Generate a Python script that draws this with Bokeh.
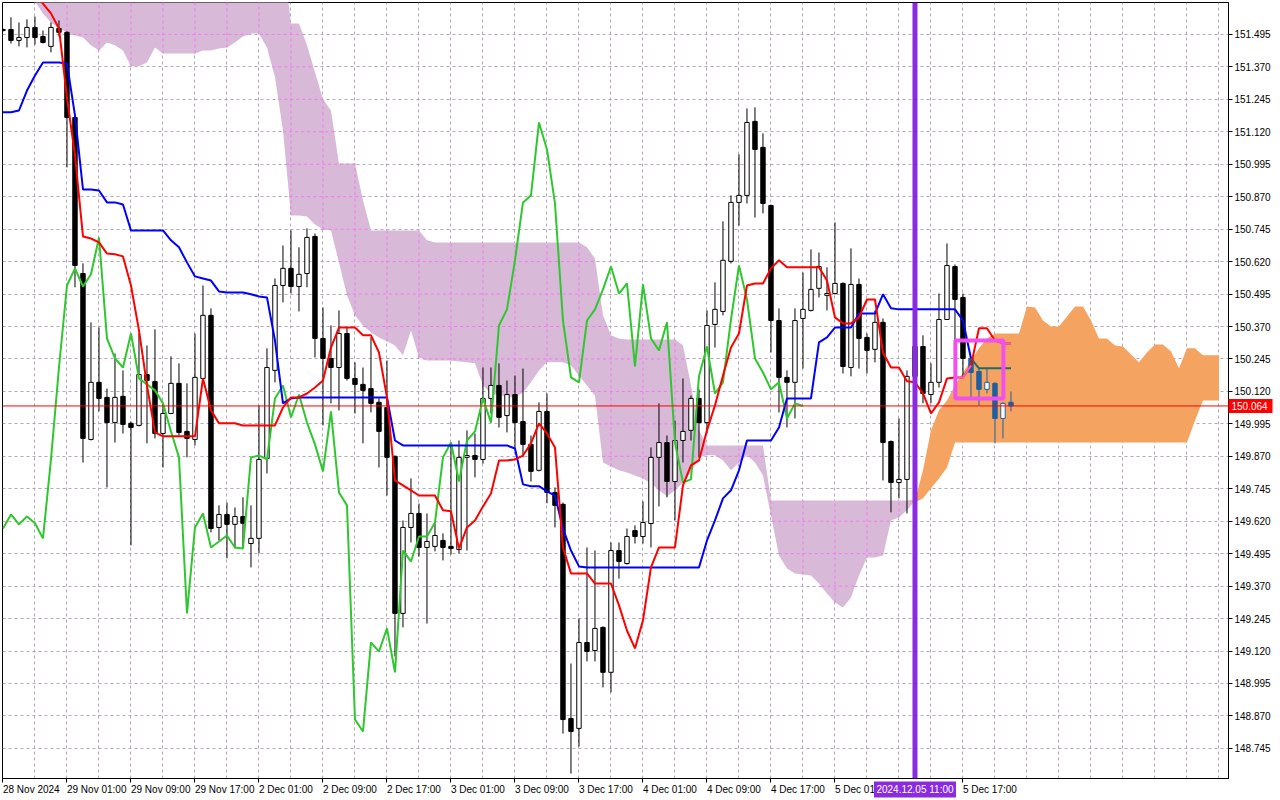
import numpy as np
from bokeh.plotting import figure
from bokeh.models import FixedTicker, PrintfTickFormatter, Span, Range1d
from bokeh.core.properties import value
from bokeh.embed import file_html
from bokeh.resources import INLINE

# ---------------- data (H1 bars, index 0 = 28 Nov 17:00) ----------------
open_ = [151.514, 151.514, 151.472, 151.483, 151.522, 151.487, 151.449, 151.518, 151.503, 151.175,
         150.574, 149.935, 150.155, 150.097, 150.000, 150.101, 149.997, 149.989, 150.185, 150.158,
         149.958, 150.035, 150.151, 149.966, 149.935, 150.170, 150.413, 149.596, 149.646, 149.608,
         149.638, 149.534, 149.554, 149.862, 150.201, 150.528, 150.594, 150.524, 150.574, 150.717,
         150.324, 150.247, 150.212, 150.343, 150.170, 150.147, 150.131, 150.078, 150.058, 149.870,
         149.265, 149.596, 149.650, 149.519, 149.523, 149.546, 149.523, 149.511, 149.866, 149.873,
         149.858, 150.093, 150.143, 150.027, 150.108, 150.004, 149.916, 149.816, 150.043, 149.731,
         149.685, 148.860, 148.822, 149.153, 149.122, 149.211, 149.038, 149.507, 149.457, 149.584,
         149.561, 149.611, 149.866, 149.923, 149.773, 149.931, 149.970, 150.093, 150.000, 150.378,
         150.428, 150.621, 150.848, 150.875, 151.160, 151.060, 150.836, 150.393, 150.174, 150.155,
         150.401, 150.432, 150.517, 150.490, 150.497, 150.536, 150.212, 150.532, 150.328, 150.282,
         150.386, 149.927, 149.769, 149.781, 150.178, 150.293, 150.108, 150.155, 150.397, 150.601,
         150.482, 150.247, 150.197, 150.128, 150.151, 150.016, 150.078]
high = [151.518, 151.561, 151.541, 151.553, 151.564, 151.510, 151.541, 151.549, 151.507, 151.183,
        150.613, 150.386, 150.366, 150.131, 150.266, 150.201, 150.004, 150.343, 150.297, 150.359,
        150.074, 150.255, 150.228, 150.151, 150.343, 150.528, 150.440, 149.681, 149.692, 149.673,
        149.712, 149.681, 150.066, 150.286, 150.555, 150.682, 150.740, 150.675, 150.748, 150.728,
        150.443, 150.374, 150.432, 150.366, 150.232, 150.212, 150.328, 150.093, 150.239, 149.873,
        149.623, 149.785, 149.688, 149.650, 149.612, 149.573, 149.923, 149.931, 149.970, 149.958,
        150.212, 150.212, 150.228, 150.162, 150.181, 150.208, 149.950, 150.078, 150.112, 149.750,
        149.692, 149.072, 149.245, 149.519, 149.507, 149.215, 149.538, 149.538, 149.592, 149.604,
        149.696, 149.904, 150.074, 149.950, 150.008, 150.170, 150.104, 150.128, 150.432, 150.540,
        150.775, 150.875, 151.033, 151.210, 151.214, 151.114, 150.840, 150.440, 150.201, 150.440,
        150.578, 150.667, 150.655, 150.598, 150.771, 150.540, 150.671, 150.555, 150.343, 150.432,
        150.401, 149.931, 150.016, 150.201, 150.316, 150.336, 150.228, 150.497, 150.690, 150.609,
        150.497, 150.251, 150.212, 150.212, 150.155, 150.078, 150.120]
low = [151.506, 151.460, 151.449, 151.445, 151.456, 151.460, 151.426, 151.487, 150.983, 150.521,
       149.846, 149.931, 150.043, 149.750, 149.923, 149.958, 149.527, 149.985, 149.920, 149.939,
       149.827, 150.033, 149.950, 149.866, 149.912, 150.168, 149.577, 149.546, 149.477, 149.515,
       149.519, 149.442, 149.496, 149.804, 150.155, 150.463, 150.497, 150.428, 150.521, 150.251,
       149.989, 150.074, 150.047, 150.162, 150.035, 149.920, 150.039, 149.827, 149.719, 149.099,
       149.211, 149.538, 149.484, 149.226, 149.504, 149.469, 149.492, 149.496, 149.507, 149.789,
       149.842, 150.035, 149.981, 149.962, 149.900, 149.866, 149.773, 149.812, 149.689, 149.596,
       148.802, 148.648, 148.752, 149.080, 149.080, 148.980, 148.961, 149.399, 149.453, 149.534,
       149.534, 149.519, 149.677, 149.712, 149.623, 149.846, 149.931, 149.866, 149.958, 150.289,
       150.413, 150.613, 150.759, 150.844, 150.790, 150.806, 150.270, 150.039, 149.981, 150.016,
       150.208, 150.428, 150.482, 150.432, 150.493, 150.189, 150.178, 150.208, 150.189, 150.232,
       149.777, 149.654, 149.708, 149.650, 150.085, 150.074, 150.074, 150.135, 150.397, 150.247,
       150.174, 150.097, 150.066, 150.112, 149.920, 149.939, 150.043]
close = [151.510, 151.472, 151.483, 151.522, 151.483, 151.464, 151.522, 151.503, 151.175, 150.605,
         149.939, 150.155, 150.093, 150.000, 150.097, 149.993, 149.981, 150.185, 150.162, 149.958,
         150.035, 150.151, 149.962, 149.939, 150.174, 150.413, 149.592, 149.646, 149.608, 149.638,
         149.612, 149.554, 149.858, 150.212, 150.528, 150.594, 150.524, 150.571, 150.713, 150.324,
         150.247, 150.212, 150.343, 150.170, 150.147, 150.124, 150.074, 149.966, 149.866, 149.265,
         149.596, 149.650, 149.519, 149.542, 149.565, 149.519, 149.515, 149.866, 149.873, 149.858,
         150.093, 150.143, 150.020, 150.108, 150.000, 149.916, 149.812, 150.043, 149.731, 149.681,
         148.856, 148.810, 149.153, 149.118, 149.207, 149.038, 149.507, 149.465, 149.561, 149.561,
         149.615, 149.866, 149.923, 149.773, 149.931, 149.966, 150.093, 150.000, 150.374, 150.436,
         150.625, 150.848, 150.875, 151.156, 151.052, 150.844, 150.393, 150.174, 150.155, 150.393,
         150.436, 150.513, 150.601, 150.497, 150.536, 150.216, 150.532, 150.324, 150.278, 150.386,
         149.923, 149.769, 149.781, 150.178, 150.293, 150.112, 150.155, 150.397, 150.605, 150.474,
         150.247, 150.193, 150.128, 150.155, 150.016, 150.074, 150.064]

tenkan = [151.690, 151.680, 151.670, 151.660, 151.645, 151.614, 151.576, 151.518, 151.252, 151.029,
          150.717, 150.709, 150.694, 150.651, 150.648, 150.640, 150.528, 150.355, 150.143, 149.962,
          149.947, 149.947, 149.947, 149.947, 149.947, 150.170, 150.047, 149.997, 149.997, 149.997,
          149.989, 149.989, 149.989, 149.989, 149.989, 150.058, 150.097, 150.097, 150.112, 150.135,
          150.162, 150.289, 150.366, 150.366, 150.366, 150.336, 150.336, 150.270, 150.097, 149.777,
          149.758, 149.739, 149.719, 149.719, 149.719, 149.662, 149.658, 149.515, 149.596, 149.623,
          149.677, 149.727, 149.854, 149.854, 149.858, 149.873, 149.920, 149.997, 149.958, 149.904,
          149.519, 149.419, 149.419, 149.419, 149.380, 149.380, 149.380, 149.296, 149.199, 149.130,
          149.238, 149.442, 149.519, 149.519, 149.519, 149.758, 149.835, 149.854, 149.970, 150.066,
          150.181, 150.289, 150.343, 150.528, 150.536, 150.536, 150.594, 150.625, 150.598, 150.598,
          150.598, 150.598, 150.598, 150.547, 150.405, 150.382, 150.382, 150.405, 150.474, 150.474,
          150.270, 150.212, 150.212, 150.159, 150.155, 150.112, 150.035, 150.078, 150.170, 150.174,
          150.174, 150.220, 150.363, 150.363, 150.316, 150.305, 150.305]

kijun = [151.195, 151.195, 151.202, 151.279, 151.337, 151.387, 151.387, 151.387, 151.383, 151.183,
         150.898, 150.898, 150.894, 150.848, 150.848, 150.840, 150.740, 150.740, 150.740, 150.740,
         150.740, 150.702, 150.675, 150.617, 150.563, 150.555, 150.547, 150.505, 150.501, 150.501,
         150.501, 150.494, 150.486, 150.482, 150.316, 150.074, 150.093, 150.097, 150.097, 150.097,
         150.097, 150.097, 150.097, 150.097, 150.097, 150.097, 150.097, 150.097, 150.097, 149.931,
         149.912, 149.912, 149.912, 149.912, 149.912, 149.912, 149.912, 149.912, 149.912, 149.912,
         149.912, 149.912, 149.912, 149.912, 149.900, 149.762, 149.755, 149.755, 149.735, 149.719,
         149.592, 149.507, 149.446, 149.442, 149.442, 149.442, 149.442, 149.442, 149.442, 149.442,
         149.442, 149.442, 149.442, 149.442, 149.442, 149.442, 149.442, 149.442, 149.546, 149.623,
         149.708, 149.739, 149.816, 149.931, 149.931, 149.931, 149.931, 149.981, 150.093, 150.093,
         150.093, 150.093, 150.309, 150.328, 150.366, 150.366, 150.366, 150.420, 150.420, 150.420,
         150.494, 150.440, 150.436, 150.436, 150.436, 150.436, 150.436, 150.436, 150.436, 150.436,
         150.393, 150.247, 150.209, 150.209, 150.209, 150.209, 150.209]

senkou_a = [151.700, 151.680, 151.660, 151.640, 151.622, 151.576, 151.541, 151.518, 151.503, 151.491,
            151.483, 151.453, 151.433, 151.464, 151.453, 151.433, 151.372, 151.372, 151.387, 151.445,
            151.422, 151.422, 151.422, 151.422, 151.422, 151.433, 151.433, 151.441, 151.445, 151.464,
            151.487, 151.499, 151.499, 151.445, 151.330, 151.125, 150.798, 150.798, 150.794, 150.763,
            150.744, 150.740, 150.617, 150.490, 150.413, 150.374, 150.347, 150.328, 150.313, 150.297,
            150.259, 150.355, 150.251, 150.239, 150.239, 150.239, 150.239, 150.235, 150.232, 150.228,
            150.143, 150.112, 150.104, 150.101, 150.097, 150.116, 150.155, 150.201, 150.232, 150.232,
            150.232, 150.220, 150.181, 150.143, 150.104, 149.846, 149.831, 149.816, 149.808, 149.796,
            149.785, 149.766, 149.739, 149.716, 149.739, 149.769, 149.808, 149.866, 149.874, 149.874,
            149.854, 149.816, 149.846, 149.874, 149.846, 149.796, 149.642, 149.488, 149.438, 149.419,
            149.415, 149.411, 149.380, 149.342, 149.307, 149.288, 149.326, 149.411, 149.480, 149.480,
            149.488, 149.623, 149.635, 149.662, 149.700, 149.816, 149.970, 150.047, 150.085, 150.143,
            150.193, 150.239, 150.286, 150.324, 150.343, 150.343, 150.343, 150.343, 150.447, 150.443,
            150.393, 150.370, 150.370, 150.409, 150.447, 150.447, 150.393, 150.324, 150.324, 150.297,
            150.293, 150.262, 150.232, 150.270, 150.301, 150.301, 150.274, 150.209, 150.286, 150.286,
            150.259, 150.259, 150.259]

senkou_b = ([151.800] * 36
            + [151.537, 151.537, 151.453, 151.349, 151.245, 151.202, 150.998, 150.998, 150.998, 150.856,
               150.740, 150.740, 150.740, 150.740, 150.740, 150.740, 150.740, 150.702]
            + [150.694] * 19
            + [150.675, 150.632, 150.413, 150.336, 150.324]
            + [150.320] * 7
            + [150.298, 150.143, 149.970]
            + [149.912] * 8
            + [149.700] * 18
            + [149.692, 149.708, 149.747, 149.785, 149.827]
            + [149.923] * 30
            + [150.008, 150.085, 150.085, 150.085])

x_tick_pos = [0, 8, 16, 24, 32, 40, 48, 56, 64, 72, 80, 88, 96, 104, 120]
x_tick_text = ["28 Nov 2024", "29 Nov 01:00", "29 Nov 09:00", "29 Nov 17:00", "2 Dec 01:00",
               "2 Dec 09:00", "2 Dec 17:00", "3 Dec 01:00", "3 Dec 09:00", "3 Dec 17:00",
               "4 Dec 01:00", "4 Dec 09:00", "4 Dec 17:00", "5 Dec 01:00", "5 Dec 17:00"]
price_ticks = [151.495, 151.370, 151.245, 151.120, 150.995, 150.870, 150.745, 150.620, 150.495,
               150.370, 150.245, 150.120, 149.995, 149.870, 149.745, 149.620, 149.495, 149.370,
               149.245, 149.120, 148.995, 148.870, 148.745]
bid_price = 150.064
marker_bar = 114
marker_text = "2024.12.05 11:00"
chikou_shift = 26
highlight_first_bar = 121
box_bars = [119.05, 125.05]
box_prices = [150.093, 150.316]

FONT = "Liberation Sans"
X_LO, X_HI = -0.06, 153.19
Y_LO, Y_HI = 148.629, 151.618
FW, FH = 1226, 776
grid_x = list(range(4, 153, 4))

# ---------------- figure ----------------
p = figure(frame_width=FW, frame_height=FH,
           x_range=Range1d(X_LO, X_HI), y_range=Range1d(Y_LO, Y_HI),
           y_axis_location="right", output_backend="svg", toolbar_location=None,
           min_border_left=2, min_border_top=2, min_border_right=0, min_border_bottom=0,
           background_fill_color="white", border_fill_color="white",
           outline_line_color="black", outline_line_width=1)

# grid
p.xgrid.ticker = FixedTicker(ticks=grid_x)
for g in (p.xgrid, p.ygrid):
    g.grid_line_color = "#b6a6b6"
    g.grid_line_dash = "3 3"
    g.grid_line_width = 1

# axes
p.xaxis.ticker = FixedTicker(ticks=x_tick_pos)
p.xaxis.major_label_overrides = {k: v for k, v in zip(x_tick_pos, x_tick_text)}
p.xaxis.major_label_orientation = -1e-6   # left-anchored labels at the tick
p.yaxis.ticker = FixedTicker(ticks=price_ticks)
p.yaxis.formatter = PrintfTickFormatter(format="%.3f")
for ax in (p.xaxis, p.yaxis):
    ax.minor_tick_line_color = None
    ax.major_tick_in = 0
    ax.major_tick_out = 4
    ax.major_tick_line_color = "black"
    ax.axis_line_color = "black"
    ax.major_label_text_font = FONT
    ax.major_label_text_font_size = "10px"
    ax.major_label_text_color = "black"
p.yaxis.major_label_standoff = 2
p.xaxis.major_label_standoff = 7

# cloud
ci = np.arange(len(senkou_a))
sa = np.array(senkou_a)
sb = np.array(senkou_b)
top = np.maximum(sa, sb)
p.varea(x=ci, y1=sa, y2=top, fill_color="#d8bad8")
p.varea(x=ci, y1=sb, y2=top, fill_color="#f4a460")

# grid lines showing through the bearish (thistle) cloud in magenta
xf = np.arange(0, ci[-1] + 1e-9, 0.02)
af = np.interp(xf, ci, sa)
bf = np.interp(xf, ci, sb)
gx, gy = [], []
for yv in price_ticks:
    m = (yv >= af) & (yv <= bf)
    if not m.any():
        continue
    d = np.diff(m.astype(int))
    starts = list(np.where(d == 1)[0] + 1)
    ends = list(np.where(d == -1)[0])
    if m[0]:
        starts = [0] + starts
    if m[-1]:
        ends = ends + [len(m) - 1]
    for s, e in zip(starts, ends):
        gx.append([xf[s], xf[e]])
        gy.append([yv, yv])
for xv in grid_x:
    av = np.interp(xv, ci, sa)
    bv = np.interp(xv, ci, sb)
    if bv > av:
        gx.append([xv, xv])
        gy.append([av, min(bv, Y_HI)])
p.multi_line(xs=gx, ys=gy, line_color="#f078f0", line_dash="3 3", line_width=1)

# candles
o = np.array(open_); h = np.array(high); l = np.array(low); c = np.array(close)
idx = np.arange(len(c))
bull = c >= o
for sel, col in ((idx < highlight_first_bar, "black"), (idx >= highlight_first_bar, "#1f5fa0")):
    xi = idx[sel]
    p.segment(x0=xi, y0=l[sel], x1=xi, y1=h[sel], line_color=col, line_width=1)
    fills = [("white" if b else col) for b in bull[sel]]
    p.vbar(x=xi, bottom=np.minimum(o, c)[sel], top=np.maximum(o, c)[sel], width=0.55,
           fill_color=fills, line_color=col, line_width=1)

# ichimoku lines
chikou = c[chikou_shift:]
p.line(idx[:len(chikou)], chikou, line_color="#2ec82e", line_width=2)
kj = np.array(kijun)
p.line(idx[:highlight_first_bar + 1], kj[:highlight_first_bar + 1], line_color="#0000ff", line_width=2)
p.line(idx[highlight_first_bar:], kj[highlight_first_bar:], line_color="#1d6b6b", line_width=2)
tk = np.array(tenkan)
p.line(idx, tk, line_color="#ff0000", line_width=2)
p.line(idx[119:122], tk[119:122], line_color="#f060c0", line_width=2)
p.line(idx[124:], tk[124:], line_color="#f060c0", line_width=2)

# highlight box
p.quad(left=[box_bars[0]], right=[box_bars[1]], bottom=[box_prices[0]], top=[box_prices[1]],
       fill_alpha=0, line_color="#f24ff2", line_width=4)

# bid line and vertical marker
p.add_layout(Span(location=bid_price, dimension="width", line_color="#ff0000", line_width=1))
p.add_layout(Span(location=marker_bar, dimension="height", line_color="#8a2be2", line_width=5))

# tags drawn outside the frame (overlay level is not clipped to the frame)
bx = (X_HI - X_LO) / FW      # one pixel in bar units
py = (Y_HI - Y_LO) / FH      # one pixel in price units
p.quad(left=[X_HI], right=[X_HI + 44 * bx], bottom=[bid_price - 7 * py], top=[bid_price + 7 * py],
       fill_color="#ff0000", line_color=None, level="overlay")
p.text(x=[X_HI + 3 * bx], y=[bid_price], text=["%.3f" % bid_price],
       text_font=value(FONT), text_font_size="10px", text_color="white",
       text_align="left", text_baseline="middle", level="overlay")
p.quad(left=[marker_bar - 41 * bx], right=[marker_bar + 41 * bx],
       bottom=[Y_LO - 19 * py], top=[Y_LO - 3 * py],
       fill_color="#8a2be2", line_color=None, level="overlay")
p.text(x=[marker_bar], y=[Y_LO - 11 * py], text=[marker_text],
       text_font=value(FONT), text_font_size="10px", text_color="white",
       text_align="center", text_baseline="middle", level="overlay")

open("out.html", "w").write(file_html(p, INLINE))
